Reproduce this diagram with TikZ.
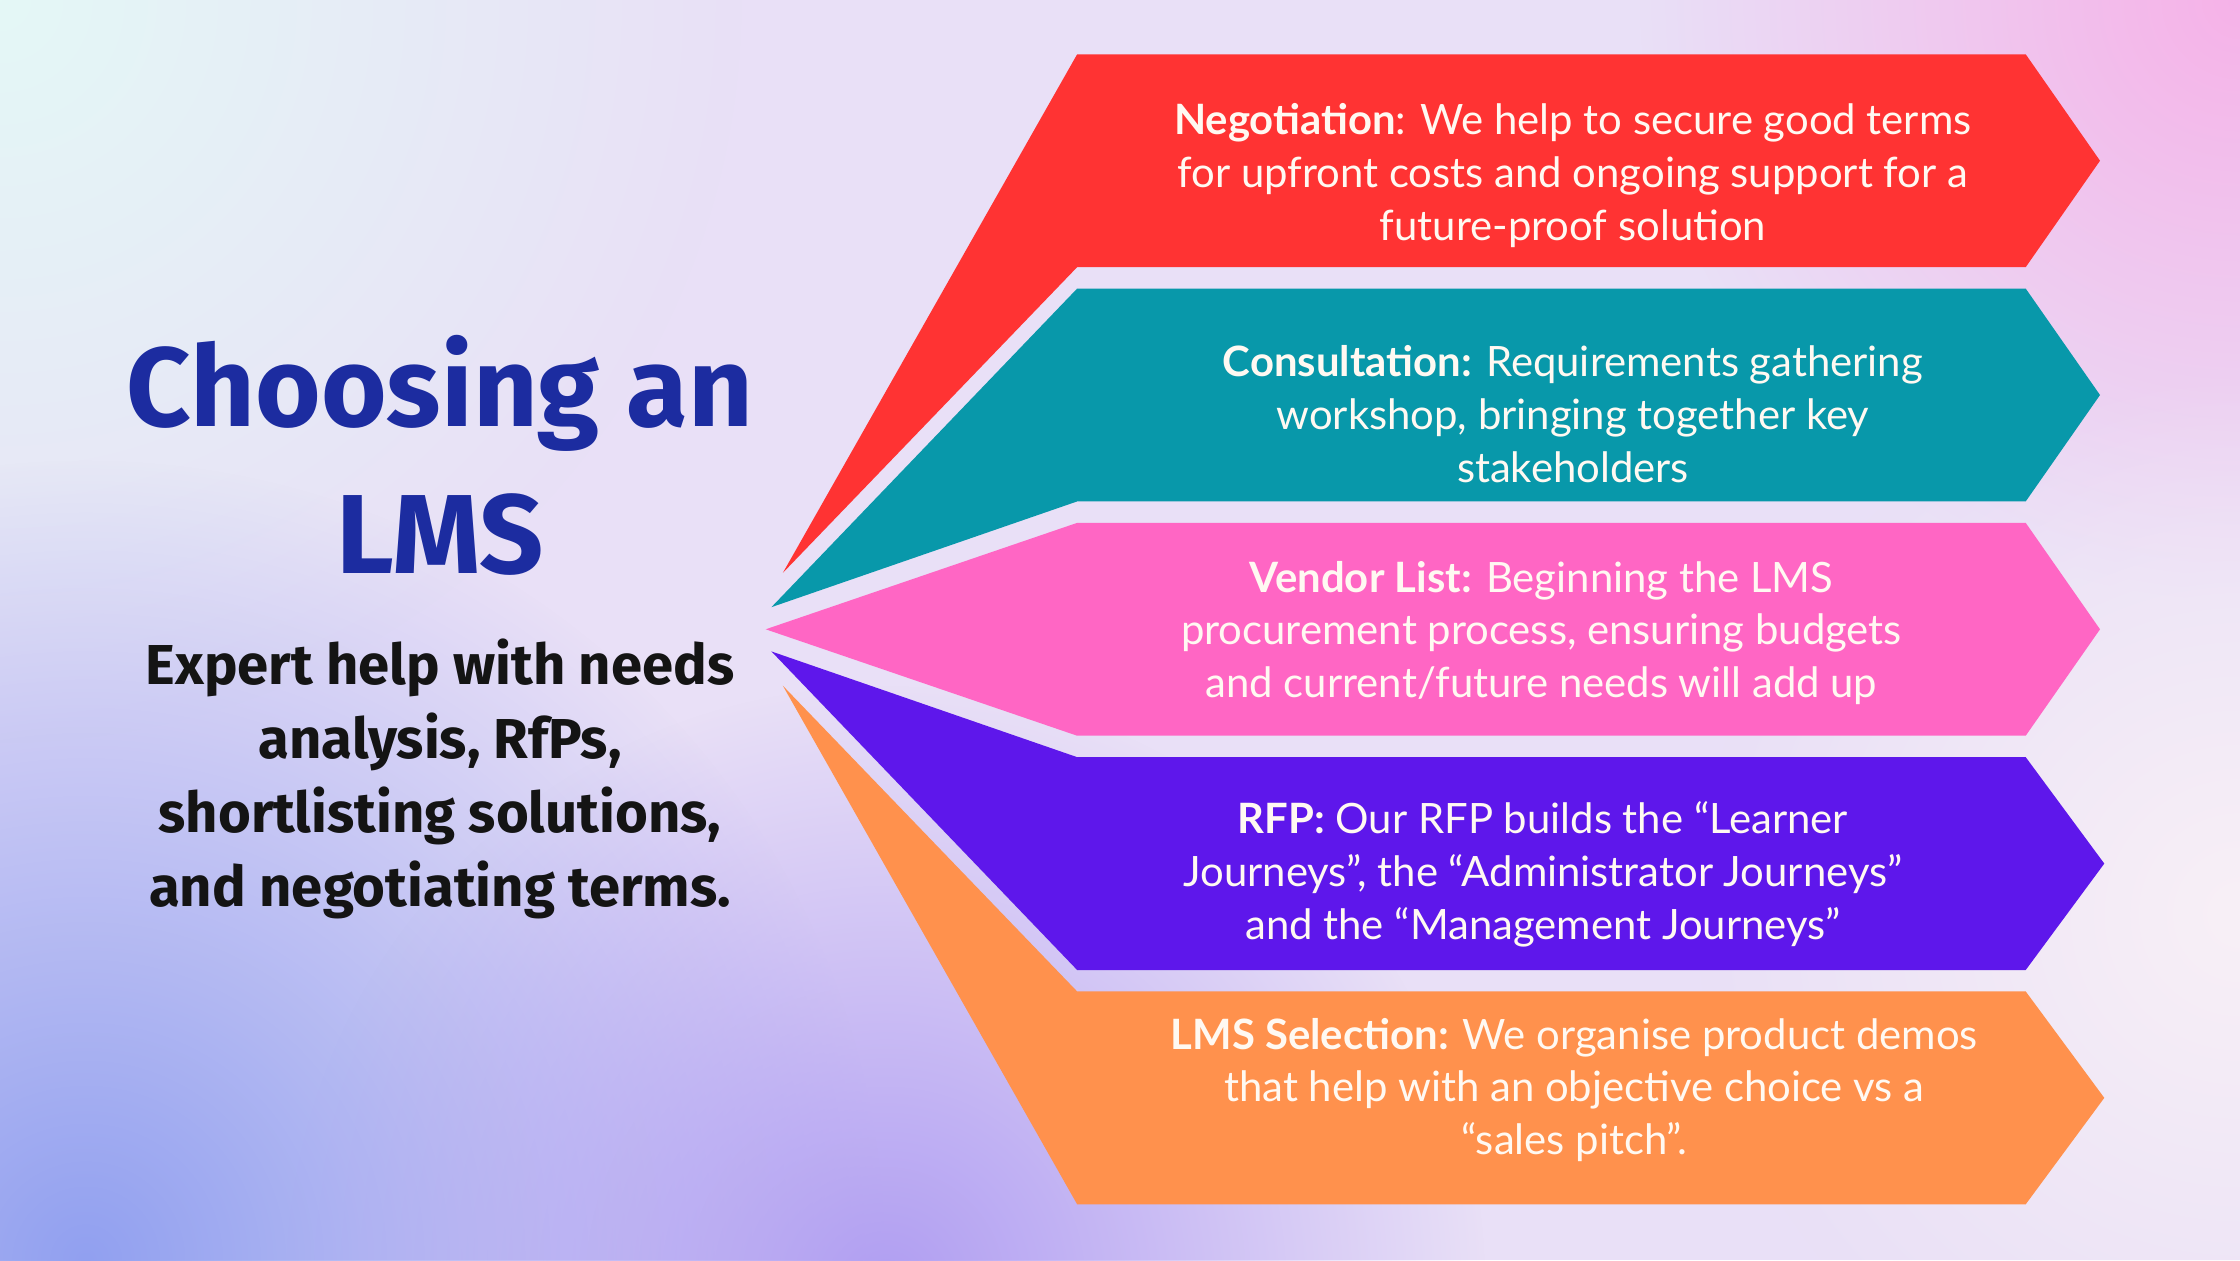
\documentclass[tikz,border=0pt]{standalone}
\usepackage{fontspec}
\setmainfont{Lato}
\newfontfamily\headfont{Fira Sans}
\usetikzlibrary{fadings}

\definecolor{titleblue}{RGB}{28,44,160}
\definecolor{negred}{RGB}{255,51,51}
\definecolor{consteal}{RGB}{8,152,170}
\definecolor{vendpink}{RGB}{255,102,196}
\definecolor{rfppurple}{RGB}{94,23,235}
\definecolor{selorange}{RGB}{255,145,77}
\definecolor{boxtext}{RGB}{255,249,242}
\definecolor{bgbase}{RGB}{233,224,247}
\definecolor{bgcyan}{RGB}{228,248,246}
\definecolor{bgpink}{RGB}{246,178,232}
\definecolor{bgblue}{RGB}{145,160,240}
\definecolor{bgviolet}{RGB}{176,158,242}
\definecolor{bgpale}{RGB}{248,240,246}

\tikzfading[name=softblob, inner color=transparent!0, outer color=transparent!100]

\tikzset{
  blob/.style={path fading=softblob},
  stagebox/.style={draw=none},
  stagetext/.style={text=boxtext, align=center, inner sep=0pt,
    font=\fontsize{11.9}{15}\selectfont},
  headline/.style={text=titleblue, align=center, inner sep=0pt,
    font=\headfont\bfseries\fontsize{32}{42}\selectfont},
  tagline/.style={text=black!92, align=center, inner sep=0pt,
    font=\headfont\bfseries\fontsize{16}{21}\selectfont}
}

\begin{document}
\begin{tikzpicture}[x=0.0142857cm, y=-0.0142857cm]
  \useasboundingbox (0,0) rectangle (1568,882);
  % ------------------------------------------------------------
  % background: pale lavender with soft coloured corners
  % ------------------------------------------------------------
  \begin{scope}
    \clip (0,0) rectangle (1568,882);
    \fill[bgbase] (0,0) rectangle (1568,882);
    \fill[bgcyan, blob] (0,0) circle (520);
    \fill[bgpink, blob] (1568,0) circle (420);
    \fill[bgblue, blob] (60,882) circle (560);
    \fill[bgviolet, blob] (620,900) circle (420);
    \fill[bgpale, blob] (1568,640) circle (380);
  \end{scope}

  % ------------------------------------------------------------
  % left: title and tag line
  % ------------------------------------------------------------
  \node[headline, anchor=north] (title) at (308,234)
    {Choosing an\\LMS};
  \node[tagline, anchor=north] (tag) at (308,447)
    {Expert help with needs\\analysis, RfPs,\\shortlisting solutions,\\and negotiating terms.};

  % ------------------------------------------------------------
  % right: five stages fanning out from one point
  % (gaps between them show the background)
  % ------------------------------------------------------------
  % stage 1: negotiation (red)
  \fill[negred, stagebox] (754,38) -- (1418,38) -- (1470,112.5) -- (1418,187)
    -- (754,187) -- (548,401) -- cycle;
  % stage 2: consultation (teal)
  \fill[consteal, stagebox] (754,202) -- (1418,202) -- (1470,276.5) -- (1418,351)
    -- (754,351) -- (540,425) -- cycle;
  % stage 3: vendor list (pink)
  \fill[vendpink, stagebox] (754,366) -- (1418,366) -- (1470,440.5) -- (1418,515)
    -- (754,515) -- (536,440.5) -- cycle;
  % stage 4: RFP (purple)
  \fill[rfppurple, stagebox] (540,456) -- (754,530) -- (1418,530) -- (1473,604.5)
    -- (1418,679) -- (754,679) -- cycle;
  % stage 5: LMS selection (orange)
  \fill[selorange, stagebox] (548,480) -- (754,694) -- (1418,694) -- (1473,768.5)
    -- (1418,843) -- (754,843) -- cycle;

  % stage texts
  \node[stagetext] (negtext) at (1101,123)
    {\textbf{Negotiation}: We help to secure good terms\\for upfront costs and ongoing support for a\\future-proof solution};
  \node[stagetext] (constext) at (1101,290)
    {\textbf{Consultation:} Requirements gathering\\workshop, bringing together key\\stakeholders};
  \node[stagetext] (vendtext) at (1079,443)
    {\textbf{Vendor List:} Beginning the LMS\\procurement process, ensuring budgets\\and current/future needs will add up};
  \node[stagetext] (rfptext) at (1080,612)
    {\textbf{RFP:} Our RFP builds the “Learner\\Journeys”, the “Administrator Journeys”\\and the “Management Journeys”};
  \node[stagetext] (seltext) at (1102,763)
    {\textbf{LMS Selection:} We organise product demos\\that help with an objective choice vs a\\“sales pitch”.};
\end{tikzpicture}
\end{document}
